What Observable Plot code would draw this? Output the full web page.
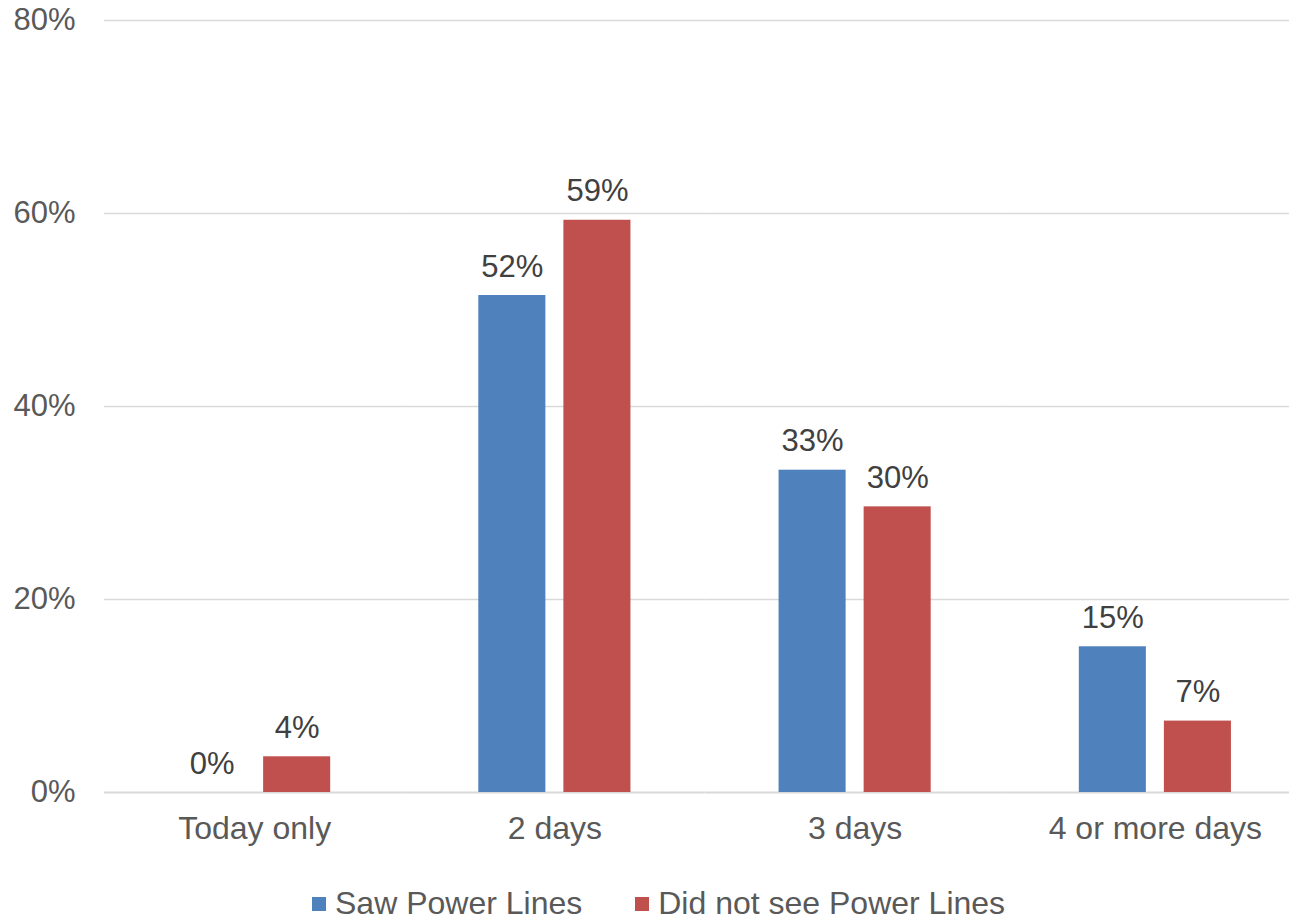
<!DOCTYPE html>
<html>
<head>
<meta charset="utf-8">
<script src="https://cdn.jsdelivr.net/npm/d3@7"></script>
<script src="https://cdn.jsdelivr.net/npm/@observablehq/plot@0.6"></script>
<style>
  html, body { margin: 0; padding: 0; background: #fff; overflow: hidden; width: 1289px; height: 919px; }
  #chart { position: absolute; left: 0; top: 0; width: 1289px; height: 919px; overflow: hidden; }
  #legend { position: absolute; top: 888px; left: 312px; display: flex; align-items: center;
    font-family: "Liberation Sans", Arial, sans-serif; font-size: 32px; line-height: 31px; color: #595959; white-space: nowrap; }
  .sw { width: 14px; height: 14px; display: inline-block; margin-right: 9px; }
  .item { display: flex; align-items: center; }
</style>
</head>
<body>
<div id="chart"></div>
<div id="legend"></div>
<script>
const categories = ["Today only", "2 days", "3 days", "4 or more days"];
const seriesNames = ["Saw Power Lines", "Did not see Power Lines"];
const sawValues = [0, 51.5, 33.4, 15.1];
const notSawValues = [3.7, 59.3, 29.6, 7.4];
const sawLabels = ["0%", "52%", "33%", "15%"];
const notSawLabels = ["4%", "59%", "30%", "7%"];
const yTicks = [0, 20, 40, 60, 80];
const colors = ["#4F81BD", "#C0504D"];

const data = [];
categories.forEach((c, i) => {
  data.push({category: c, series: seriesNames[0], value: sawValues[i], label: sawLabels[i]});
  data.push({category: c, series: seriesNames[1], value: notSawValues[i], label: notSawLabels[i]});
});

const font = '"Liberation Sans", Arial, sans-serif';

const chart = Plot.plot({
  width: 1305,
  height: 860,
  marginLeft: 104,
  marginRight: 0,
  marginTop: 20,
  marginBottom: 68,
  style: {fontFamily: font, fontSize: "31px", color: "#595959", background: "#fff", maxWidth: "none"},
  fx: {domain: categories, padding: 0, label: null, axis: null, round: false},
  x: {domain: seriesNames, paddingInner: 0.2118, paddingOuter: 0.8706, axis: null, round: false},
  y: {domain: [0, 80], ticks: yTicks, tickFormat: d => d + "%", label: null, tickSize: 0, tickPadding: 29, grid: false},
  color: {domain: seriesNames, range: colors},
  marks: [
    Plot.gridY(yTicks.filter(t => t > 0), {stroke: "#D9D9D9", strokeOpacity: 1, strokeWidth: 1.3}),
    Plot.ruleY([0], {stroke: "#D9D9D9", strokeWidth: 2}),
    Plot.barY(data, {fx: "category", x: "series", y: "value", fill: "series"}),
    Plot.text(data, {fx: "category", x: "series", y: "value", text: "label", lineAnchor: "bottom", dy: -19,
      fill: "#404040", fontSize: 31, fontFamily: font}),
    Plot.axisFx({anchor: "bottom", tickSize: 0, tickPadding: 24, label: null, fontSize: 32, fill: "#595959"})
  ]
});
chart.style.maxWidth = "none";
document.getElementById("chart").appendChild(chart);

const legend = document.getElementById("legend");
seriesNames.forEach((s, i) => {
  const item = document.createElement("div");
  item.className = "item";
  if (i > 0) item.style.marginLeft = "53px";
  const sw = document.createElement("span");
  sw.className = "sw";
  sw.style.background = colors[i];
  const t = document.createElement("span");
  t.textContent = s;
  item.appendChild(sw);
  item.appendChild(t);
  legend.appendChild(item);
});
</script>
</body>
</html>
